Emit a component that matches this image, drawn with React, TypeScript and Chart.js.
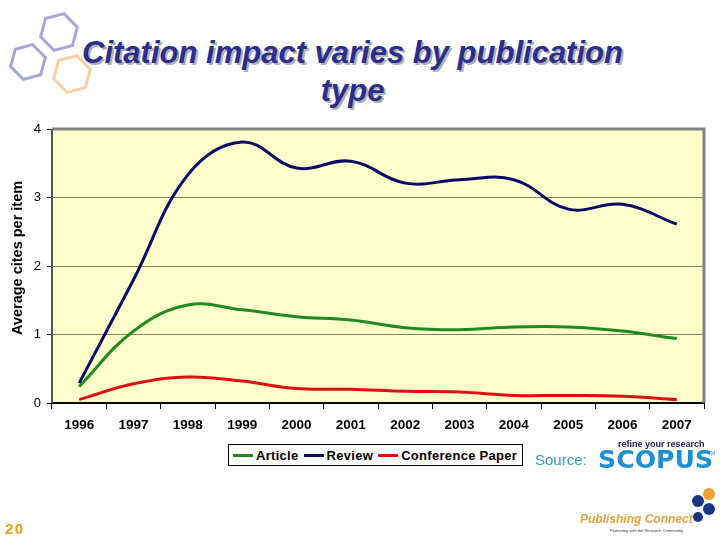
import React, { useEffect, useRef } from "react";
import { Chart, registerables } from "chart.js";

Chart.register(...registerables);

const categories = ["1996", "1997", "1998", "1999", "2000", "2001", "2002", "2003", "2004", "2005", "2006", "2007"];
const articleValues = [0.24, 1.05, 1.43, 1.36, 1.26, 1.21, 1.1, 1.07, 1.11, 1.11, 1.05, 0.94];
const reviewValues = [0.29, 1.8, 3.33, 3.81, 3.43, 3.53, 3.21, 3.26, 3.26, 2.83, 2.9, 2.61];
const conferenceValues = [0.05, 0.28, 0.38, 0.32, 0.21, 0.2, 0.17, 0.16, 0.11, 0.11, 0.1, 0.05];
const yTicks = [0, 1, 2, 3, 4];
const seriesNames = ["Article", "Review", "Conference Paper"];
const seriesColors = ["#1f8a1f", "#0a0a66", "#e01010"];

const bgPlugin = {
  id: "plotBg",
  beforeDraw(chart: any) {
    const { ctx, chartArea } = chart;
    ctx.save();
    ctx.fillStyle = "#ffffcc";
    ctx.fillRect(chartArea.left, chartArea.top, chartArea.right - chartArea.left, chartArea.bottom - chartArea.top);
    ctx.restore();
  },
  afterDraw(chart: any) {
    const { ctx, chartArea } = chart;
    ctx.save();
    ctx.strokeStyle = "#808080";
    ctx.lineWidth = 3;
    ctx.beginPath();
    ctx.moveTo(chartArea.left, chartArea.top);
    ctx.lineTo(chartArea.right, chartArea.top);
    ctx.lineTo(chartArea.right, chartArea.bottom);
    ctx.stroke();
    ctx.strokeStyle = "#555555";
    ctx.lineWidth = 2;
    ctx.beginPath();
    ctx.moveTo(chartArea.left, chartArea.top);
    ctx.lineTo(chartArea.left, chartArea.bottom);
    ctx.stroke();
    ctx.restore();
  },
};

function Hex({ cx, cy, r, color }: { cx: number; cy: number; r: number; color: string }) {
  const pts: string[] = [];
  for (let k = 0; k < 6; k++) {
    const a = ((45 + 60 * k) * Math.PI) / 180;
    pts.push(`${cx + r * Math.cos(a)},${cy + r * Math.sin(a)}`);
  }
  return <polygon points={pts.join(" ")} fill="none" stroke={color} strokeWidth={3} />;
}

export default function App() {
  const ref = useRef<HTMLCanvasElement | null>(null);

  useEffect(() => {
    if (!ref.current) return;
    const chart = new Chart(ref.current, {
      type: "line",
      data: {
        labels: categories,
        datasets: [
          { label: seriesNames[0], data: articleValues, borderColor: seriesColors[0], backgroundColor: seriesColors[0] },
          { label: seriesNames[1], data: reviewValues, borderColor: seriesColors[1], backgroundColor: seriesColors[1] },
          { label: seriesNames[2], data: conferenceValues, borderColor: seriesColors[2], backgroundColor: seriesColors[2] },
        ].map((d) => ({ ...d, borderWidth: 3, pointRadius: 0, tension: 0.4, fill: false })),
      },
      options: {
        animation: false,
        responsive: false,
        maintainAspectRatio: false,
        layout: { padding: { left: 6, top: 129, right: 16, bottom: 100 } },
        plugins: { legend: { display: false }, tooltip: { enabled: false } },
        scales: {
          x: {
            offset: true,
            grid: { drawOnChartArea: false, drawTicks: true, tickLength: 6, color: "#000", offset: true },
            border: { color: "#000", width: 2 },
            ticks: { color: "#000", font: { family: "Liberation Sans, Arial", size: 13.5, weight: "bold" }, padding: 8, maxRotation: 0 },
            afterFit(axis: any) { axis.height = 37; },
          },
          y: {
            min: 0,
            max: 4,
            afterBuildTicks(axis: any) { axis.ticks = yTicks.map((v) => ({ value: v })); },
            grid: {
              color: (c: any) => (c.tick && c.tick.value === 0 ? "rgba(0,0,0,0)" : "#808060"),
              tickColor: "#000",
              tickLength: 5,
              lineWidth: 1,
            },
            border: { display: false },
            ticks: { color: "#000", font: { family: "Liberation Sans, Arial", size: 13 }, padding: 6 },
            title: { display: true, text: "    Average cites per item", color: "#000", font: { family: "Liberation Sans, Arial", size: 14.5, weight: "bold" }, padding: { top: 3, bottom: 0 } },
            afterFit(axis: any) { axis.width = 46; },
          },
        },
      },
      plugins: [bgPlugin],
    } as any);
    return () => chart.destroy();
  }, []);

  const sans = "'Liberation Sans', Arial, sans-serif";

  return (
    <div style={{ position: "absolute", left: 0, top: 0, width: 720, height: 540, background: "#fff", overflow: "hidden", fontFamily: sans }}>
      <svg width={110} height={110} style={{ position: "absolute", left: 0, top: 0 }}>
        <Hex cx={59} cy={32} r={19} color="#a8a8d8" />
        <Hex cx={28} cy={62} r={18} color="#a8a8d8" />
        <Hex cx={72} cy={74} r={19} color="#f8d0a4" />
      </svg>
      <div
        style={{
          position: "absolute",
          left: 40,
          width: 625,
          top: 34,
          textAlign: "center",
          fontFamily: "'Liberation Sans Narrow', 'Arial Narrow', " + sans,
          fontWeight: "bold",
          fontStyle: "italic",
          fontSize: 31,
          lineHeight: "38px",
          color: "#2b2e8c",
          textShadow: "2px 2px 0 #b0b0b0",
        }}
      >
        Citation impact varies by publication
        <br />
        type
      </div>
      <canvas ref={ref} width={720} height={540} style={{ position: "absolute", left: 0, top: 0 }} />
      <div
        style={{
          position: "absolute",
          left: 228,
          top: 444,
          width: 295,
          height: 22,
          border: "1px solid #000",
          background: "#fff",
          display: "flex",
          alignItems: "center",
          justifyContent: "flex-start",
          paddingLeft: 4,
          boxSizing: "border-box",
          whiteSpace: "nowrap",
          fontSize: 13,
          letterSpacing: 0.3,
          fontWeight: "bold",
          color: "#000",
        }}
      >
        {seriesNames.map((n, i) => (
          <span key={n} style={{ display: "flex", alignItems: "center", marginRight: 5 }}>
            <span style={{ display: "inline-block", width: 20, height: 3, background: seriesColors[i], marginRight: 3 }} />
            {n}
          </span>
        ))}
      </div>
      <div style={{ position: "absolute", left: 535, top: 451, fontSize: 15, color: "#3399cc" }}>Source:</div>
      <div style={{ position: "absolute", left: 618, top: 439, fontSize: 9, fontWeight: "bold", color: "#1a1a50" }}>refine your research</div>
      <div style={{ position: "absolute", left: 598, top: 446, fontSize: 24, fontWeight: 900, color: "#1e8fd0", fontFamily: "'DejaVu Sans', " + sans, transform: "scaleX(1.05)", transformOrigin: "left" }}>SCOPUS</div>
      <div style={{ position: "absolute", left: 708, top: 450, fontSize: 5, color: "#1e8fd0" }}>TM</div>
      <svg width={32} height={42} style={{ position: "absolute", left: 688, top: 486 }}>
        <circle cx={21} cy={8} r={6} fill="#f0a030" />
        <circle cx={10} cy={15} r={6} fill="#1a3580" />
        <circle cx={21} cy={23} r={6} fill="#1a3580" />
        <circle cx={10} cy={31} r={5} fill="#1a3580" />
      </svg>
      <div style={{ position: "absolute", left: 580, top: 512, fontSize: 12, fontWeight: "bold", fontStyle: "italic", color: "#e8a040" }}>Publishing Connect</div>
      <div style={{ position: "absolute", left: 610, top: 528, fontSize: 4, color: "#333" }}>Partnering with the Research Community</div>
      <div style={{ position: "absolute", left: 5, top: 520, fontSize: 15, fontWeight: "bold", letterSpacing: 1.5, color: "#e8a020" }}>20</div>
    </div>
  );
}
